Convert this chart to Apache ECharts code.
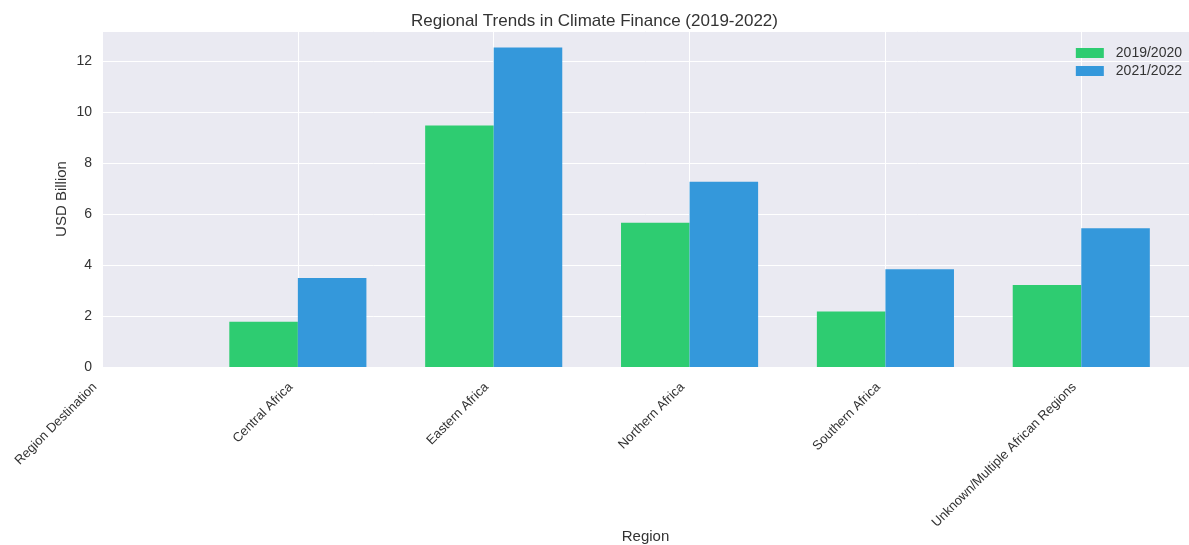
<!DOCTYPE html>
<html>
<head>
<meta charset="utf-8">
<script src="https://cdn.jsdelivr.net/npm/echarts@6/dist/echarts.min.js"></script>
<style>
html,body{margin:0;padding:0;background:#fff;}
#chart{width:1189px;height:545px;}
</style>
</head>
<body>
<div id="chart"></div>
<script>
const categories = ["Region Destination", "Central Africa", "Eastern Africa", "Northern Africa", "Southern Africa", "Unknown/Multiple African Regions"];
const values2019 = [0, 1.78, 9.48, 5.66, 2.18, 3.22];
const values2021 = [0, 3.49, 12.54, 7.27, 3.84, 5.45];
const seriesNames = ["2019/2020", "2021/2022"];
const yTicks = [0, 2, 4, 6, 8, 10, 12];

const font = "'Liberation Sans', Arial, sans-serif";
const textColor = "#333333";

const chart = echarts.init(document.getElementById('chart'), null, {renderer: 'canvas'});
chart.setOption({
  animation: false,
  backgroundColor: '#ffffff',
  title: {
    text: 'Regional Trends in Climate Finance (2019-2022)',
    left: 'center', top: 8,
    textStyle: {fontFamily: font, fontSize: 17, fontWeight: 'normal', color: textColor}
  },
  legend: {
    orient: 'vertical', right: 2, top: 41,
    itemWidth: 28, itemHeight: 10, itemGap: 4,
    icon: 'rect',
    data: seriesNames,
    textStyle: {fontFamily: font, fontSize: 14, color: textColor, padding: [0, 0, 0, 7]}
  },
  grid: {
    left: 102, right: 0, top: 31, bottom: 178,
    outerBoundsMode: 'none', containLabel: false,
    show: true, backgroundColor: '#EAEAF2', borderWidth: 0
  },
  xAxis: {
    type: 'value', min: 0, max: 5.55, interval: 1,
    name: 'Region', nameLocation: 'middle', nameGap: 162, nameMoveOverlap: false,
    nameTextStyle: {fontFamily: font, fontSize: 15, color: textColor},
    axisLine: {show: false}, axisTick: {show: false},
    splitLine: {show: true, lineStyle: {color: '#ffffff', width: 1}},
    axisLabel: {
      rotate: 45, margin: 11, padding: [0, 10, 0, 0],
      fontFamily: font, fontSize: 13, color: textColor,
      showMaxLabel: false,
      formatter: function (v) { return Number.isInteger(v) && categories[v] !== undefined ? categories[v] : ''; }
    }
  },
  yAxis: {
    type: 'value', min: yTicks[0], max: 13.19, interval: 2,
    name: 'USD Billion', nameLocation: 'middle', nameGap: 33, nameMoveOverlap: false,
    nameTextStyle: {fontFamily: font, fontSize: 15, color: textColor},
    axisLine: {show: false}, axisTick: {show: false},
    splitLine: {show: true, lineStyle: {color: '#ffffff', width: 1}},
    axisLabel: {
      margin: 10, fontFamily: font, fontSize: 14, color: textColor,
      showMaxLabel: false,
      formatter: function (v) { return yTicks.indexOf(v) >= 0 ? String(v) : ''; }
    }
  },
  series: [
    {
      name: seriesNames[0], type: 'bar', barWidth: '35%', barGap: '0%',
      itemStyle: {color: '#2ECC71'},
      data: values2019.map((v, i) => [i, v])
    },
    {
      name: seriesNames[1], type: 'bar', barWidth: '35%', barGap: '0%',
      itemStyle: {color: '#3498DB'},
      data: values2021.map((v, i) => [i, v])
    }
  ]
});
</script>
</body>
</html>
